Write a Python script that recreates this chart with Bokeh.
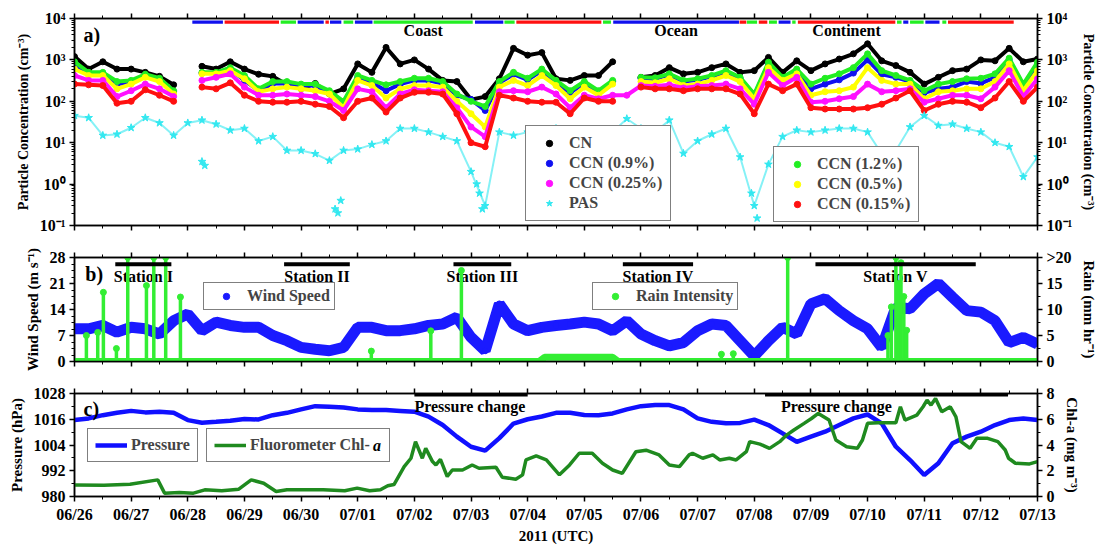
import math
import numpy as np
from bokeh.plotting import figure
from bokeh.layouts import column
from bokeh.models import (Range1d, LinearAxis, LogAxis, FixedTicker, Legend,
                          LegendItem, Label, ColumnDataSource)
from bokeh.embed import file_html
from bokeh.resources import INLINE

nan = float("nan")

# ---------------- data ----------------
date_labels = ["06/26", "06/27", "06/28", "06/29", "06/30", "07/01", "07/02", "07/03", "07/04",
               "07/05", "07/06", "07/07", "07/08", "07/09", "07/10", "07/11", "07/12", "07/13"]
# sampling grid: every 6 h, in days since 2011-06-26 00 UTC
day6h = np.arange(69) * 0.25

cn = [1200, 600, 900, 600,  600, 500, 400, 250,  nan, 700, 600, 900,  600, 450, 400, 250,
      200, 270, 150, 200,  800, 500, 2000, 800,  1000, 600, 320, 300,  110, 130, 350, 1900,
      1300, 1500, 350, 320,  420, 420, 900, nan,  380, 420, 650, 460,  500, 650, 800, 500,
      550, 1150, 500, 950,  550, 800, 1050, 1400,  2450, 950, 730, 500,  260, 380, 550, 600,
      1000, 950, 1900, 900,  1050]
ccn_12 = [900, 500, 500, 300,  320, 450, 360, 180,  nan, 500, 500, 650,  420, 200, 300, 300,
          260, 260, 180, 100,  420, 320, 250, 300,  360, 360, 300, 150,  100, 75, 300, 500,
          360, 600, 320, 180,  300, 180, 320, nan,  380, 370, 460, 320,  350, 420, 550, 380,
          150, 880, 380, 600,  260, 360, 460, 650,  1400, 550, 420, 320,  180, 260, 300, 350,
          360, 460, 1100, 260,  880]
ccn_09 = [800, 450, 450, 260,  280, 420, 330, 170,  nan, 480, 480, 600,  320, 180, 270, 270,
          240, 240, 160, 80,  380, 280, 180, 260,  320, 320, 270, 140,  110, 60, 280, 450,
          330, 550, 300, 160,  280, 170, 300, nan,  360, 350, 440, 300,  330, 400, 500, 360,
          140, 800, 350, 560,  200, 260, 330, 480,  1000, 450, 380, 300,  160, 200, 220, 300,
          270, 380, 1000, 240,  800]
ccn_05 = [600, 420, 420, 200,  260, 380, 300, 150,  nan, 460, 460, 550,  350, 170, 200, 220,
          200, 180, 150, 70,  320, 240, 120, 200,  240, 240, 220, 100,  50, 24, 220, 320,
          240, 420, 240, 115,  220, 140, 260, nan,  300, 280, 350, 240,  260, 320, 420, 300,
          115, 650, 320, 460,  140, 170, 180, 220,  650, 320, 260, 260,  115, 170, 180, 200,
          200, 300, 800, 180,  550]
ccn_025 = [420, 320, 320, 130,  180, 260, 200, 130,  nan, 320, 380, 460,  220, 140, 140, 150,
           140, 130, 100, 60,  200, 170, 70, 150,  190, 180, 170, 70,  24, 14, 170, 180,
           170, 220, 150, 70,  140, 115, 140, 140,  240, 230, 250, 210,  230, 240, 260, 200,
           85, 500, 240, 380,  95, 100, 115, 130,  260, 170, 180, 200,  95, 115, 140, 140,
           115, 220, 550, 130,  350]
ccn_015 = [260, 250, 240, 90,  100, 190, 140, 100,  nan, 220, 200, 280,  140, 100, 95, 95,
           100, 85, 75, 40,  100, 120, 55, 120,  165, 165, 150, 50,  10, 8, 140, 120,
           100, 95, 95, 50,  120, 100, 100, nan,  220, 200, 200, 180,  200, 200, 200, 150,
           50, 260, 180, 260,  70, 65, 65, 65,  70, 85, 120, 180,  60, 85, 100, 95,
           70, 120, 300, 100,  220]
pas = [45, 40, 15, 16,  23, 40, 30, 15,  30, 35, 28, 20,  22, 11, 14, 6.5,
       6.5, 5.4, 3.7, 6.5,  7, 9, 11, 22,  22, 18, 14, 11,  2, 0.3, 18, 15,
       18, 18, 22, 16,  14, 20, 18, 38,  22, 18, 35, 5.5,  11, 16, 22, 4.5,
       0.3, 3, 14, 20,  18, 20, 22, 22,  18, 5.4, 6.5, 24,  45, 26, 28, 22,
       18, 10, 8, 1.5,  4.5]
pas_extra_day = [2.25, 2.30, 4.60, 4.65, 4.70, 7.10, 7.15, 7.20, 11.95, 12.05]
pas_extra_val = [3.5, 2.8, 0.25, 0.2, 0.4, 1.0, 0.6, 0.25, 0.6, 0.15]

# air-mass origin bar (top of panel a)
am_start = [2.08, 2.65, 3.64, 3.94, 4.43, 4.51, 4.75, 4.95, 5.28, 7.07, 7.59, 7.80, 9.33, 9.51,
            11.74, 11.87, 12.08, 12.26, 12.43, 12.67, 12.77, 14.52, 14.63, 14.75, 15.02, 15.32, 15.42]
am_end = [2.62, 3.61, 3.91, 4.40, 4.49, 4.71, 4.92, 5.26, 7.03, 7.57, 7.77, 9.30, 9.47, 11.73,
          11.86, 12.05, 12.23, 12.40, 12.64, 12.73, 14.49, 14.60, 14.72, 14.99, 15.27, 15.39, 16.58]
am_type = ["Ocean", "Continent", "Coast", "Ocean", "Continent", "Ocean", "Coast", "Ocean", "Coast",
           "Ocean", "Coast", "Continent", "Coast", "Ocean", "Continent", "Coast", "Continent", "Coast",
           "Ocean", "Coast", "Continent", "Coast", "Ocean", "Coast", "Ocean", "Coast", "Continent"]

wind = [8.8, 8.8, 9.7, 7.9,  9.2, 8.8, 7.4, 11,  12.8, 8.3, 10.6, 9.7,  9.2, 9.2, 7, 5.6,
        3.8, 3.3, 2.9, 3.8,  9.2, 9.2, 8.3, 8.3,  8.8, 9.7, 10.1, 11.9,  6.5, 2.9, 15.5, 10.1,
        8.3, 9.2, 9.7, 10.1,  10.6, 10.1, 8.3, 11,  7.4, 5.6, 4.2, 5.1,  8.3, 10.1, 9.7, 5.6,
        1.5, 5.6, 9.2, 7.4,  15.5, 16.9, 13.7, 11,  8.8, 3.8, 14.6, 14.2,  18.2, 21, 17.3, 13.7,
        13.3, 11, 5.1, 6.5,  4.7]
rain_base_day = [0, 8.2, 8.3, 9.5, 9.6, 17]
rain_base_val = [0, 0, 0.8, 0.8, 0, 0]
rain_evt_day = [0.21, 0.41, 0.51, 0.74, 0.94, 1.27, 1.40, 1.61, 1.87, 5.24, 6.29, 6.83,
                11.42, 11.63, 12.59, 14.36, 14.42, 14.50, 14.55, 14.59, 14.64, 14.69]
rain_evt_val = [5.0, 5.6, 13.3, 2.5, 20, 14.6, 20, 20, 12.4, 2.0, 5.9, 17.5,
                1.4, 1.5, 20, 5, 10.5, 20, 15, 19, 12.5, 6]

station_name = ["Station I", "Station II", "Station III", "Station IV", "Station V"]
station_start = [0.72, 3.70, 6.69, 9.68, 13.08]
station_end = [1.71, 4.86, 7.71, 10.92, 15.91]

pressure = [1015.6, 1016.4, 1017.9, 1019,  1019.9, 1019.2, 1019.5, 1019,  1015.6, 1014.4, 1014.8, 1015.3,
            1016.1, 1015.9, 1017.9, 1019,  1020.6, 1022.1, 1021.8, 1021.5,  1020.6, 1020.3, 1020.3, 1019.9,
            1019.5, 1017.2, 1013.3, 1007.9,  1003.2, 1001.4, 1007.2, 1014,  1016, 1017.3, 1019, 1019,
            1018, 1017.9, 1018.7, 1020.6,  1022.1, 1022.6, 1022.6, 1020.6,  1016.4, 1014.8, 1014.1, 1014.3,
            1015.8, 1013.3, 1009.4, 1005.5,  1007.9, 1010.2, 1013.3, 1016.4,  1018.2, 1014.1, 1003.2, 997,
            990, 995.5, 1004.8, 1007.9,  1010.2, 1013.3, 1015.6, 1016.4,  1015.6]
chl_day = [0.0, 0.52, 0.98, 1.47, 1.59, 1.85, 2.1, 2.3, 2.6, 2.9,
           3.12, 3.34, 3.56, 3.75, 4.39, 4.77, 4.99, 5.21, 5.4, 5.53,
           5.64, 5.82, 5.94, 6.02, 6.14, 6.2, 6.32, 6.38, 6.46, 6.58,
           6.67, 6.85, 7.02, 7.14, 7.44, 7.55, 7.79, 7.91, 7.97, 8.15,
           8.33, 8.56, 8.74, 8.91, 9.14, 9.32, 9.5, 9.67, 9.91, 10.09,
           10.32, 10.5, 10.68, 10.85, 10.91, 11.09, 11.27, 11.39, 11.56, 11.68,
           11.86, 11.92, 12.1, 12.27, 12.45, 12.57, 12.7, 12.88, 13.01, 13.13,
           13.32, 13.44, 13.63, 13.82, 13.91, 14.0, 14.19, 14.5, 14.58, 14.66,
           14.87, 14.98, 15.05, 15.12, 15.2, 15.31, 15.46, 15.56, 15.65, 15.81,
           15.93, 16.12, 16.3, 16.43, 16.49, 16.61, 16.86, 17.0]
chl_val = [0.9, 0.88, 0.95, 1.29, 0.26, 0.31, 0.26, 0.52, 0.44, 0.57,
           1.29, 1.03, 0.39, 0.52, 0.52, 0.44, 0.65, 0.44, 0.52, 0.83,
           0.93, 2.32, 2.97, 4.26, 2.97, 3.74, 2.71, 2.45, 2.89, 1.55,
           2.06, 2.06, 2.45, 2.19, 2.27, 1.5, 1.34, 1.68, 2.84, 3.15,
           2.84, 1.68, 2.45, 3.36, 3.36, 2.58, 2.06, 1.8, 3.48, 3.6,
           3.23, 2.45, 2.32, 3.23, 3.36, 2.97, 3.23, 2.84, 2.97, 2.84,
           3.48, 4.26, 4.07, 3.74, 4.26, 4.77, 5.16, 5.68, 6.06, 6.45,
           5.94, 4.39, 3.87, 3.74, 4.39, 5.68, 5.73, 5.73, 6.97, 5.94,
           6.32, 6.97, 7.48, 7.1, 7.61, 6.58, 6.97, 6.19, 4.26, 3.74,
           4.52, 4.52, 4.26, 3.61, 2.97, 2.58, 2.53, 2.71]
pc_start = [6.0, 12.19]
pc_end = [8.0, 16.48]

# ---------------- styling helpers ----------------
FONT = "Liberation Serif"
TICK_PX = "16px"
AXLAB_PX = "15px"
am_colors = {"Ocean": "#1010ee", "Continent": "#ff1010", "Coast": "#22ee22"}

x_rng = Range1d(0, 17)
x_major = list(range(18))
x_minor = [i + 0.5 for i in range(17)]
x_over = {i: date_labels[i] for i in range(18)}
x_blank = {i: "" for i in range(18)}


def base_axis(ax):
    ax.axis_line_width = 1.5
    ax.axis_line_color = "black"
    ax.major_tick_line_width = 1.5
    ax.minor_tick_line_width = 1
    ax.major_tick_in = 0
    ax.major_tick_out = 5
    ax.minor_tick_in = 0
    ax.minor_tick_out = 3
    ax.major_label_text_font = FONT
    ax.major_label_text_font_style = "bold"
    ax.major_label_text_font_size = TICK_PX
    ax.major_label_text_color = "black"
    ax.major_label_standoff = 4
    ax.axis_label_text_font = FONT
    ax.axis_label_text_font_style = "bold"
    ax.axis_label_text_font_size = AXLAB_PX
    ax.axis_label_text_color = "black"
    ax.axis_label_standoff = 6


def x_axis(ax, labels):
    base_axis(ax)
    ax.ticker = FixedTicker(ticks=x_major, minor_ticks=x_minor)
    if labels:
        ax.major_label_overrides = x_over
    else:
        ax.major_label_overrides = x_blank
        ax.major_label_text_font_size = "1px"
        ax.major_label_standoff = 0


def make_fig(h, top, bottom, y_range, log=False):
    p = figure(width=1102, height=h, x_range=x_rng, y_range=y_range,
               y_axis_type="log" if log else "linear",
               toolbar_location=None, output_backend="svg",
               min_border_left=74, min_border_right=65,
               min_border_top=top, min_border_bottom=bottom)
    p.xgrid.visible = False
    p.ygrid.visible = False
    p.outline_line_color = "black"
    p.outline_line_width = 1.5
    return p


def text_label(p, x, y, text, size="16px", align="center", style="bold", level="annotation", **kw):
    lab = Label(x=x, y=y, text=text, text_font=FONT, text_font_style=style,
                text_font_size=size, text_align=align, text_baseline="middle",
                text_color="black", level=level, **kw)
    p.add_layout(lab)
    return lab


def legend(items, loc, padding, gw, gh, standoff, spacing=2, bg_alpha=1.0):
    lg = Legend(items=items, location=loc, padding=padding, margin=0, spacing=spacing,
                glyph_width=gw, glyph_height=gh, label_height=gh, label_standoff=standoff,
                label_text_font=FONT, label_text_font_style="bold", label_text_font_size="16px",
                border_line_color="black", border_line_width=1.5, background_fill_alpha=bg_alpha)
    return lg

# ---------------- panel a ----------------
pa = make_fig(241, 18, 16, Range1d(0.1, 1e4), log=True)
x_axis(pa.xaxis[0], False)
ax_top = LinearAxis()
x_axis(ax_top, False)
pa.add_layout(ax_top, "above")

log_major = [0.1, 1.0, 10.0, 100.0, 1000.0, 10000.0]
log_minor = [m * 10.0 ** e for e in range(-1, 4) for m in range(2, 10)]
log_over = {0.1: "10⁻¹", 1.0: "10⁰", 10.0: "10¹", 100.0: "10²", 1000.0: "10³", 10000.0: "10⁴"}
ax_right = LogAxis()
for ax in [pa.yaxis[0], ax_right]:
    base_axis(ax)
    ax.ticker = FixedTicker(ticks=log_major, minor_ticks=log_minor)
    ax.major_label_overrides = log_over
    ax.axis_label = "Particle Concentration (cm⁻³)"
    ax.axis_label_text_font_size = "14px"
pa.add_layout(ax_right, "right")

series_a = [("CN", cn, "black"), ("CCN (0.9%)", ccn_09, "#1010f0"),
            ("CCN (1.2%)", ccn_12, "#22ee22"), ("CCN (0.5%)", ccn_05, "#ffff00"),
            ("CCN (0.25%)", ccn_025, "#ff10ff"), ("CCN (0.15%)", ccn_015, "#ff1010")]
rend_a = {}
for name, vals, col in series_a:
    pa.line(day6h, vals, line_color=col, line_width=4)
    rend_a[name] = pa.scatter(day6h, vals, marker="circle", size=6, fill_color=col, line_color=col)
pa.line(day6h, pas, line_color="#33e8f0", line_width=2, line_alpha=0.6)
rend_a["PAS"] = pa.scatter(day6h, pas, marker="star", size=8, fill_color="#33e8f0", line_color="#33e8f0")
pa.scatter(pas_extra_day, pas_extra_val, marker="star", size=8, fill_color="#33e8f0", line_color="#33e8f0")

am_src = ColumnDataSource(dict(s=am_start, e=am_end, c=[am_colors[t] for t in am_type]))
pa.quad(left="s", right="e", top=8900, bottom=7450, fill_color="c", line_color=None, source=am_src)

# region names centred on the longest segment of each air-mass type
for t in ["Coast", "Ocean", "Continent"]:
    segs = [(e - s, (s + e) / 2) for s, e, k in zip(am_start, am_end, am_type) if k == t]
    text_label(pa, max(segs)[1], 5100, t)
text_label(pa, 0.16, 3900, "a)", size="20px", align="left")

lg1 = legend([LegendItem(label=n, renderers=[rend_a[n]]) for n in ["CN", "CCN (0.9%)", "CCN (0.25%)", "PAS"]],
             (451, 4), 8, 30, 16, 5)
lg2 = legend([LegendItem(label=n, renderers=[rend_a[n]]) for n in ["CCN (1.2%)", "CCN (0.5%)", "CCN (0.15%)"]],
             (699, 3), 8, 30, 16, 5)
pa.add_layout(lg1)
pa.add_layout(lg2)

# ---------------- panel b ----------------
pb = make_fig(136, 16, 16, Range1d(0, 28))
pb.extra_y_ranges = {"rain": Range1d(0, 20)}
x_axis(pb.xaxis[0], False)
ax_top = LinearAxis()
x_axis(ax_top, False)
pb.add_layout(ax_top, "above")
base_axis(pb.yaxis[0])
pb.yaxis[0].ticker = FixedTicker(ticks=[0, 7, 14, 21, 28],
                                 minor_ticks=[1.75, 3.5, 5.25, 8.75, 10.5, 12.25, 15.75, 17.5, 19.25,
                                              22.75, 24.5, 26.25])
pb.yaxis[0].axis_label = "Wind Speed (m s⁻¹)"
ax_rain = LinearAxis(y_range_name="rain")
base_axis(ax_rain)
ax_rain.ticker = FixedTicker(ticks=[0, 5, 10, 15, 20], minor_ticks=[2.5, 7.5, 12.5, 17.5])
ax_rain.major_label_overrides = {20: ">20"}
ax_rain.axis_label = "Rain (mm hr⁻¹)"
pb.add_layout(ax_rain, "right")

pb.line(day6h, wind, line_color="#1a1aff", line_width=11)
r_wind = pb.scatter(day6h, wind, marker="circle", size=6, fill_color="#1a1aff", line_color="#1a1aff")
pb.line(rain_base_day, rain_base_val, line_color="#33ee33", line_width=7, y_range_name="rain")
pb.segment(x0=rain_evt_day, y0=0, x1=rain_evt_day, y1=rain_evt_val, line_color="#33ee33",
           line_width=3.5, y_range_name="rain")
r_rain = pb.scatter(rain_evt_day, rain_evt_val, marker="circle", size=6, fill_color="#33ee33",
                    line_color="#33ee33", y_range_name="rain")

pb.segment(x0=station_start, y0=26.2, x1=station_end, y1=26.2, line_color="black", line_width=4)
for n, s, e in zip(station_name, station_start, station_end):
    text_label(pb, (s + e) / 2, 23.0, n, level="underlay")
text_label(pb, 0.19, 23.6, "b)", size="20px", align="left")

pb.add_layout(legend([LegendItem(label="Wind Speed", renderers=[r_wind])], (129, 51), 4, 36, 16, 3))
pb.add_layout(legend([LegendItem(label="Rain Intensity", renderers=[r_rain])], (518, 51), 4, 36, 16, 3))

# ---------------- panel c ----------------
pc = make_fig(169, 16, 49, Range1d(980, 1028))
pc.extra_y_ranges = {"chl": Range1d(0, 8)}
x_axis(pc.xaxis[0], True)
pc.xaxis[0].axis_label = "2011 (UTC)"
pc.xaxis[0].axis_label_standoff = 2
ax_top = LinearAxis()
x_axis(ax_top, False)
pc.add_layout(ax_top, "above")
base_axis(pc.yaxis[0])
pc.yaxis[0].ticker = FixedTicker(ticks=[980, 992, 1004, 1016, 1028], minor_ticks=[986, 998, 1010, 1022])
pc.yaxis[0].axis_label = "Pressure (hPa)"
ax_chl = LinearAxis(y_range_name="chl")
base_axis(ax_chl)
ax_chl.ticker = FixedTicker(ticks=[0, 2, 4, 6, 8], minor_ticks=[1, 3, 5, 7])
ax_chl.axis_label = "Chl-a (mg m⁻³)"
pc.add_layout(ax_chl, "right")

r_p = pc.line(day6h, pressure, line_color="#1010ff", line_width=4.5)
r_c = pc.line(chl_day, chl_val, line_color="#1f8a1f", line_width=3.5, y_range_name="chl")

pc.segment(x0=pc_start, y0=1027.5, x1=pc_end, y1=1027.5, line_color="black", line_width=4)
text_label(pc, pc_start[0], 1022.1, "Pressure change", align="left")
text_label(pc, 12.47, 1022.1, "Pressure change", align="left")
text_label(pc, 0.16, 1020.9, "c)", size="20px", align="left")

pc.add_layout(legend([LegendItem(label="Pressure", renderers=[r_p])], (13, 34), 7, 32, 12, 4))
# italic "a" of Chl-a is drawn as its own label behind a see-through legend box
text_label(pc, 5.34, 1003.7, "a", style="bold italic")
pc.add_layout(legend([LegendItem(label="Fluorometer Chl-   ", renderers=[r_c])], (132, 34), 7, 32, 12, 4,
                     bg_alpha=0.0))

layout = column(pa, pb, pc)
open("out.html", "w").write(file_html(layout, INLINE, title="CN CCN wind pressure"))
